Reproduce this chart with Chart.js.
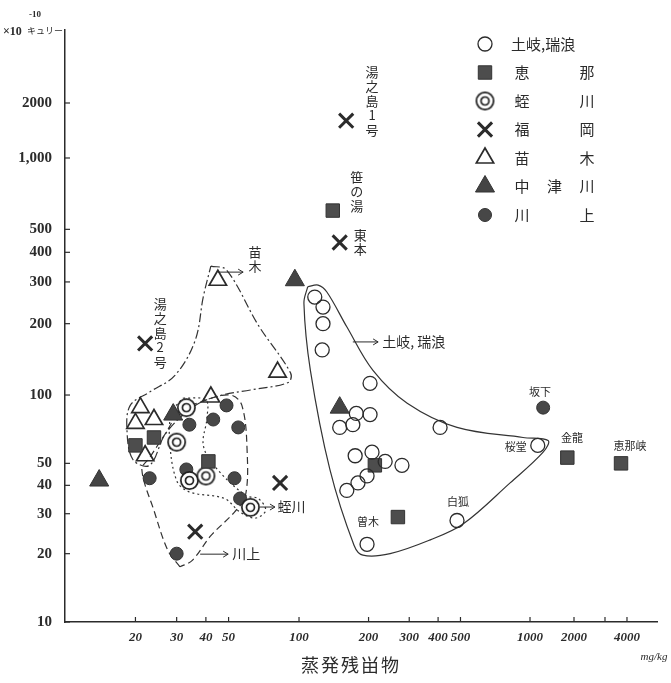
<!DOCTYPE html>
<html lang="ja">
<head>
<meta charset="UTF-8">
<title>蒸発残畄物とラドン含量</title>
<script src="https://cdn.jsdelivr.net/npm/chart.js"></script>
<style>
  html, body { margin: 0; padding: 0; background: #fff; }
  canvas { display: block; }
</style>
</head>
<body>
<canvas id="chart" width="671" height="683"></canvas>
<script>
// 地区名（凡例の順）
const groups = ['土岐,瑞浪', '恵那', '蛭川', '福岡', '苗木', '中津川', '川上'];

// 蒸発残畄物 (mg/kg) と 含量 (×10^-10 キュリー)
const tokiX = [117, 127, 127, 126, 203, 177, 203, 150, 171, 408, 175, 207, 236, 279, 197, 180, 161, 197, 483, 1130];
const tokiY = [259, 235, 200, 155, 112, 83, 82, 72, 74, 72, 54, 56, 51, 49, 44, 41, 38, 22, 28, 60];
const enaX = [24, 20, 41, 140, 213, 268, 1800, 3700];
const enaY = [65, 60, 51, 600, 49, 29, 53, 50];
const hiruX = [33, 30, 34, 40, 62];
const hiruY = [88, 62, 42, 44, 32];
const fukuX = [160, 150, 22, 83, 36];
const fukuY = [1600, 440, 165, 41, 25];
const naeX = [45, 81, 42, 21, 20, 24, 22];
const naeY = [305, 125, 98, 88, 75, 78, 54];
const nakaX = [14, 29, 96, 150];
const nakaY = [42, 82, 305, 88];
const kawaX = [49, 43, 55, 34, 33, 53, 56, 23, 30, 1230];
const kawaY = [90, 78, 72, 74, 47, 43, 35, 43, 20, 88];

// 手書きの囲み線
const tokiLoopX = [109, 121, 132, 161, 209, 294, 483, 933, 1330, 1230, 820, 513, 370, 248, 189, 173, 136, 112, 105, 109];
const tokiLoopY = [286, 291, 272, 194, 127, 92, 72, 65, 63, 56, 41, 27, 23, 20, 19.7, 21.8, 47, 127, 244, 286];
const naeLoopX = [42, 49, 67, 92, 90, 62, 47, 36, 27, 23, 19.5, 18.4, 19, 23, 29.5, 36, 39, 42];
const naeLoopY = [350, 337, 197, 124, 113, 105, 100, 90, 68, 49, 52, 70, 90, 103, 121, 170, 260, 350];
const kawaLoopX = [31, 27.5, 24, 21.3, 23, 26.7, 31, 40, 51, 57, 60, 59, 53, 42, 35, 31];
const kawaLoopY = [17.5, 20.7, 31, 47, 53, 67, 84, 95, 100, 90, 57, 36, 30.5, 24, 18.7, 17.5];
const hiruLoopX = [32, 40, 40.4, 39, 44, 59.4, 67, 72, 65, 56, 48, 34, 30, 28, 28.6, 32];
const hiruLoopY = [97, 95, 79, 60, 48, 36, 35, 31, 28.7, 30.5, 35, 37.4, 42, 63, 84, 97];

// 目盛
const xTicks = [20, 30, 40, 50, 100, 200, 300, 400, 500, 1000, 2000, 3000, 4000];
const xTickLabels = ['20', '30', '40', '50', '100', '200', '300', '400', '500', '1000', '2000', '', '4000'];
const yTicks = [10, 20, 30, 40, 50, 100, 200, 300, 400, 500, 1000, 2000];
const yTickLabels = ['10', '20', '30', '40', '50', '100', '200', '300', '400', '500', '1,000', '2000'];

// 書き込み（泉名など）
const notes = [
  { text: '湯之島1号', x: 207, y: 3230, vertical: true },
  { text: '笹の湯', x: 178, y: 890, vertical: true },
  { text: '東本', x: 184, y: 507, vertical: true },
  { text: '苗木', x: 64.9, y: 430, vertical: true },
  { text: '湯之島2号', x: 25.5, y: 260, vertical: true },
  { text: '土岐, 瑞浪', x: 229, y: 167.5 },
  { text: '蛭川', x: 81, y: 32.1 },
  { text: '川上', x: 51.8, y: 19.9 },
  { text: '坂下', x: 1170, y: 103, small: true },
  { text: '桜堂', x: 868, y: 59, small: true },
  { text: '金龍', x: 1940, y: 65, small: true },
  { text: '恵那峡', x: 4160, y: 60, small: true },
  { text: '白狐', x: 488, y: 33.8, small: true },
  { text: '曽木', x: 199, y: 27.6, small: true }
];
const arrows = [
  { from: [45, 330], to: [57.7, 330] },
  { from: [171, 167.5], to: [220, 167.5] },
  { from: [68, 32.1], to: [78.9, 32.1] },
  { from: [37.8, 19.9], to: [49.8, 19.9] }
];

const ink = '#2b2b2b';
const pts = (xs, ys) => xs.map((v, i) => ({ x: v, y: ys[i] }));

// 二重丸の記号
function ring() {
  const c = document.createElement('canvas');
  c.width = 21; c.height = 21;
  const g = c.getContext('2d');
  g.fillStyle = '#fff';
  g.strokeStyle = '#1e1e1e'; g.lineWidth = 1.7;
  g.beginPath(); g.arc(10.5, 10.5, 8.6, 0, Math.PI * 2); g.fill(); g.stroke();
  g.beginPath(); g.arc(10.5, 10.5, 4, 0, Math.PI * 2); g.stroke();
  return c;
}

// 手描きの方眼に合わせた対数軸（1000 以上は目盛が詰まっている）
const LogScale = Chart.LogarithmicScale || Chart.registry.getScale('logarithmic');
const knots = {
  x: [[10, 0], [100, 0.3953], [1000, 0.7855], [2000, 0.8598], [4000, 0.9493], [6000, 1]],
  y: [[10, 0], [100, 0.3834], [1000, 0.7838], [2000, 0.8767], [5000, 1]]
};
class PaperLog extends LogScale {
  getPixelForValue(v) {
    if (v === null || v === undefined || isNaN(v)) return NaN;
    const k = knots[this.id], l = Math.log10(v);
    let i = 1;
    while (i < k.length - 1 && l > Math.log10(k[i][0])) i++;
    const a = k[i - 1], b = k[i];
    const t = (l - Math.log10(a[0])) / (Math.log10(b[0]) - Math.log10(a[0]));
    return this.getPixelForDecimal(a[1] + t * (b[1] - a[1]));
  }
  getValueForPixel(p) {
    const d = this.getDecimalForPixel(p), k = knots[this.id];
    let i = 1;
    while (i < k.length - 1 && d > k[i][1]) i++;
    const a = k[i - 1], b = k[i];
    const la = Math.log10(a[0]), lb = Math.log10(b[0]);
    return Math.pow(10, la + (d - a[1]) / (b[1] - a[1]) * (lb - la));
  }
}
PaperLog.id = 'paperLog';
PaperLog.defaults = {};
Chart.register(PaperLog);

const marks = [
  { data: pts(tokiX, tokiY), pointStyle: 'circle', pointRadius: 7, backgroundColor: 'rgba(255,255,255,0)', borderColor: ink, borderWidth: 1.3 },
  { data: pts(enaX, enaY), pointStyle: 'rect', pointRadius: 9.5, backgroundColor: '#4d4d4d', borderColor: '#333', borderWidth: 1 },
  { data: pts(hiruX, hiruY), pointStyle: ring(), pointRadius: 9, backgroundColor: '#fff', borderColor: ink, borderWidth: 1.4 },
  { data: pts(fukuX, fukuY), pointStyle: 'crossRot', pointRadius: 10, backgroundColor: ink, borderColor: ink, borderWidth: 3 },
  { data: pts(naeX, naeY), pointStyle: 'triangle', pointRadius: 10, backgroundColor: 'rgba(255,255,255,0)', borderColor: ink, borderWidth: 1.7 },
  { data: pts(nakaX, nakaY), pointStyle: 'triangle', pointRadius: 11, backgroundColor: '#444', borderColor: '#333', borderWidth: 1 },
  { data: pts(kawaX, kawaY), pointStyle: 'circle', pointRadius: 6.5, backgroundColor: '#474747', borderColor: '#333', borderWidth: 1 }
].map((d, i) => Object.assign({ label: groups[i], pointHoverRadius: d.pointRadius }, d));

const loop = (xs, ys, dash) => ({
  label: '', data: pts(xs, ys), showLine: true, pointRadius: 0, borderColor: '#333',
  borderWidth: 1.2, borderDash: dash, tension: 0.35, fill: false
});

const datasets = marks.concat([
  loop(tokiLoopX, tokiLoopY, []),
  loop(naeLoopX, naeLoopY, [9, 3, 2, 3]),
  loop(kawaLoopX, kawaLoopY, [7, 4]),
  loop(hiruLoopX, hiruLoopY, [2, 3])
]);

// 内向きの目盛線、軸の単位、凡例、書き込み
const paper = {
  id: 'paper',
  afterDraw(chart) {
    const { ctx, scales: { x, y } } = chart;
    ctx.save();
    ctx.strokeStyle = ink; ctx.fillStyle = ink; ctx.lineWidth = 1.2;
    xTicks.forEach(v => {
      const px = x.getPixelForValue(v);
      ctx.beginPath(); ctx.moveTo(px, y.bottom); ctx.lineTo(px, y.bottom - 5); ctx.stroke();
    });
    yTicks.forEach(v => {
      const py = y.getPixelForValue(v);
      ctx.beginPath(); ctx.moveTo(x.left, py); ctx.lineTo(x.left + 5, py); ctx.stroke();
    });

    // 縦軸の単位
    ctx.textBaseline = 'middle'; ctx.textAlign = 'left';
    ctx.font = 'bold 12px "Liberation Serif"';
    ctx.fillText('×10', 3, 32);
    ctx.font = 'bold 9px "Liberation Serif"';
    ctx.fillText('-10', 29, 15);
    ctx.font = '9px "Noto Sans CJK JP"';
    ctx.fillText('キュリー', 27, 31);

    // 横軸の名前と単位
    ctx.font = '18px "Noto Sans CJK JP"';
    ctx.textAlign = 'center';
    const title = '蒸発残畄物';
    [...title].forEach((c, i) => ctx.fillText(c, 310 + i * 20, 665));
    ctx.font = 'italic 11px "Liberation Serif"';
    ctx.fillText('mg/kg', 654, 657);

    // 凡例
    groups.forEach((g, i) => {
      const cy = 44 + i * 28.5;
      const ds = chart.data.datasets[i];
      ctx.fillStyle = ds.backgroundColor; ctx.strokeStyle = ds.borderColor; ctx.lineWidth = ds.borderWidth;
      Chart.helpers.drawPoint(ctx, { pointStyle: ds.pointStyle, radius: ds.pointRadius, borderWidth: ds.borderWidth, rotation: 0 }, 485, cy);
      ctx.fillStyle = ink;
      ctx.font = '15px "Noto Sans CJK JP"';
      if (g.includes(',')) {
        ctx.textAlign = 'left';
        ctx.fillText(g, 511, cy);
      } else {
        ctx.textAlign = 'center';
        const chars = [...g], step = 65 / (chars.length - 1);
        chars.forEach((c, j) => ctx.fillText(c, 522 + j * step, cy));
      }
    });

    // 矢印
    ctx.strokeStyle = ink; ctx.fillStyle = ink; ctx.lineWidth = 1;
    arrows.forEach(a => {
      const x1 = x.getPixelForValue(a.from[0]), y1 = y.getPixelForValue(a.from[1]);
      const x2 = x.getPixelForValue(a.to[0]), y2 = y.getPixelForValue(a.to[1]);
      ctx.beginPath(); ctx.moveTo(x1, y1); ctx.lineTo(x2, y2);
      ctx.moveTo(x2 - 5, y2 - 3); ctx.lineTo(x2, y2); ctx.lineTo(x2 - 5, y2 + 3);
      ctx.stroke();
    });

    // 書き込み
    notes.forEach(n => {
      const px = x.getPixelForValue(n.x), py = y.getPixelForValue(n.y);
      if (n.vertical) {
        ctx.font = '13px "Noto Sans CJK JP"';
        ctx.textAlign = 'center';
        [...n.text].forEach((c, j) => ctx.fillText(c, px, py + 7 + j * 14.5));
      } else {
        ctx.font = (n.small ? '11px' : '14px') + ' "Noto Sans CJK JP"';
        ctx.textAlign = n.small ? 'center' : 'left';
        ctx.fillText(n.text, px, py);
      }
    });
    ctx.restore();
  }
};

new Chart(document.getElementById('chart'), {
  type: 'scatter',
  data: { datasets: datasets },
  options: {
    responsive: false,
    animation: false,
    events: [],
    layout: { padding: { top: 30, right: 14, left: 0, bottom: 0 } },
    plugins: { legend: { display: false }, tooltip: { enabled: false } },
    scales: {
      x: {
        type: 'paperLog', min: 10, max: 6000,
        afterFit: axis => { axis.height = 61; },
        afterBuildTicks: axis => { axis.ticks = xTicks.map(v => ({ value: v })); },
        grid: { display: false, drawTicks: false },
        border: { display: true, color: ink, width: 1.5 },
        ticks: {
          autoSkip: false, maxRotation: 0, padding: 8, color: ink,
          font: { family: 'Liberation Serif', size: 13, weight: 'bold', style: 'italic' },
          callback: (v, i) => xTickLabels[i]
        }
      },
      y: {
        type: 'paperLog', min: 10, max: 5000,
        afterFit: axis => { axis.width = 65; },
        afterBuildTicks: axis => { axis.ticks = yTicks.map(v => ({ value: v })); },
        grid: { display: false, drawTicks: false },
        border: { display: true, color: ink, width: 1.5 },
        ticks: {
          autoSkip: false, padding: 13, color: ink,
          font: { family: 'Liberation Serif', size: 15, weight: 'bold' },
          callback: (v, i) => yTickLabels[i]
        }
      }
    }
  },
  plugins: [paper]
});
</script>
</body>
</html>
